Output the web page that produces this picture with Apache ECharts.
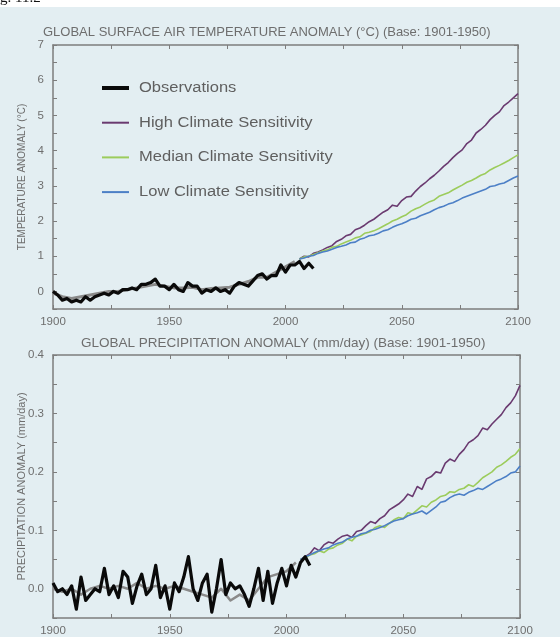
<!DOCTYPE html>
<html>
<head>
<meta charset="utf-8">
<title>Global temperature and precipitation anomaly</title>
<script src="https://cdn.jsdelivr.net/npm/echarts@6/dist/echarts.min.js"></script>
<style>
  html, body { margin: 0; padding: 0; background: #ffffff; }
  #chart { width: 560px; height: 637px; }
</style>
</head>
<body>
<div id="chart"></div>
<script>
// ---- data ----
const legendNames = ['Observations', 'High Climate Sensitivity', 'Median Climate Sensitivity', 'Low Climate Sensitivity']
const xTickLabels = ['1900', '1950', '2000', '2050', '2100']

// temperature anomaly (°C)
const tempObsStart = 1900   // every 2 years
const tempObs = [0.0, -0.1, -0.25, -0.2, -0.3, -0.25, -0.3, -0.15, -0.25, -0.15,
  -0.1, -0.05, -0.1, 0.0, -0.05, 0.05, 0.05, 0.1, 0.05, 0.2,
  0.2, 0.25, 0.35, 0.15, 0.15, 0.05, 0.2, 0.05, 0.0, 0.25,
  0.15, 0.15, -0.05, 0.05, 0.0, 0.1, 0.0, 0.05, -0.05, 0.15,
  0.25, 0.2, 0.15, 0.3, 0.45, 0.5, 0.35, 0.45, 0.45, 0.75,
  0.55, 0.75, 0.75, 0.85, 0.65, 0.8, 0.65]
const tempHistStart = 1900  // every 4 years, model historical run
const tempHist = [-0.05, -0.15, -0.2, -0.15, -0.1, -0.05, 0.0, 0.0, 0.05, 0.1,
  0.15, 0.2, 0.15, 0.1, 0.1, 0.12, 0.05, 0.08, 0.1, 0.12,
  0.2, 0.28, 0.4, 0.4, 0.55, 0.7, 0.85]
const projStart = 2006      // every 2 years to 2100
const tempHigh = [0.92, 1.0, 0.98, 1.08, 1.12, 1.18, 1.25, 1.3, 1.42, 1.48,
  1.58, 1.62, 1.75, 1.8, 1.88, 1.98, 2.05, 2.15, 2.25, 2.32,
  2.45, 2.42, 2.58, 2.68, 2.7, 2.85, 2.98, 3.08, 3.2, 3.3,
  3.42, 3.55, 3.66, 3.8, 3.92, 4.02, 4.2, 4.3, 4.5, 4.6,
  4.72, 4.88, 5.0, 5.1, 5.28, 5.38, 5.5, 5.62]
const tempMedian = [0.92, 0.98, 1.0, 1.05, 1.1, 1.15, 1.18, 1.25, 1.28, 1.35,
  1.4, 1.45, 1.52, 1.55, 1.65, 1.68, 1.72, 1.78, 1.85, 1.92,
  2.0, 2.05, 2.12, 2.18, 2.28, 2.35, 2.4, 2.48, 2.55, 2.6,
  2.7, 2.75, 2.8, 2.88, 2.95, 3.02, 3.1, 3.15, 3.22, 3.3,
  3.35, 3.45, 3.52, 3.58, 3.65, 3.72, 3.8, 3.88]
const tempLow = [0.92, 0.95, 1.0, 1.02, 1.08, 1.12, 1.15, 1.2, 1.25, 1.28,
  1.32, 1.38, 1.4, 1.48, 1.52, 1.58, 1.6, 1.65, 1.72, 1.75,
  1.82, 1.88, 1.92, 1.98, 2.05, 2.08, 2.15, 2.2, 2.25, 2.32,
  2.38, 2.42, 2.48, 2.52, 2.58, 2.65, 2.7, 2.75, 2.8, 2.85,
  2.9, 2.98, 3.0, 3.05, 3.08, 3.15, 3.22, 3.28]

// precipitation anomaly (mm/day)
const precObsStart = 1900   // every 2 years
const precObs = [0.01, -0.005, 0.0, -0.01, 0.005, -0.035, 0.02, -0.02, -0.01, 0.0,
  -0.005, 0.035, -0.01, 0.005, -0.015, 0.03, 0.02, -0.025, 0.005, 0.025,
  -0.01, 0.0, 0.04, -0.015, 0.005, -0.035, 0.01, -0.005, 0.02, 0.055,
  0.0, -0.02, 0.01, 0.025, -0.04, 0.0, 0.05, -0.01, 0.01, 0.0,
  0.005, -0.01, -0.03, 0.0, 0.035, -0.02, 0.03, -0.025, 0.01, 0.035,
  0.005, 0.04, 0.02, 0.045, 0.055, 0.04]
const precHistStart = 1900  // every 4 years
const precHist = [0.0, -0.005, 0.0, -0.01, 0.0, 0.005, 0.0, 0.005, 0.0, 0.01,
  0.0, 0.005, 0.0, 0.005, 0.0, -0.005, -0.01, -0.015, 0.0, -0.02,
  -0.01, -0.02, 0.0, 0.02, 0.025, 0.03, 0.045]
const precHigh = [0.05, 0.055, 0.06, 0.07, 0.065, 0.075, 0.08, 0.078, 0.085, 0.09,
  0.092, 0.088, 0.098, 0.1, 0.108, 0.115, 0.112, 0.12, 0.125, 0.135,
  0.14, 0.145, 0.152, 0.162, 0.158, 0.175, 0.17, 0.188, 0.192, 0.2,
  0.198, 0.215, 0.222, 0.218, 0.23, 0.238, 0.25, 0.255, 0.262, 0.275,
  0.272, 0.282, 0.29, 0.298, 0.31, 0.318, 0.33, 0.348]
const precMedian = [0.05, 0.052, 0.058, 0.06, 0.065, 0.062, 0.068, 0.07, 0.075, 0.078,
  0.085, 0.082, 0.09, 0.092, 0.095, 0.098, 0.105, 0.108, 0.105, 0.112,
  0.118, 0.122, 0.12, 0.13, 0.128, 0.135, 0.142, 0.14, 0.148, 0.152,
  0.158, 0.16, 0.166, 0.165, 0.17, 0.172, 0.178, 0.175, 0.182, 0.19,
  0.195, 0.2, 0.208, 0.212, 0.218, 0.225, 0.23, 0.24]
const precLow = [0.05, 0.055, 0.058, 0.062, 0.065, 0.068, 0.07, 0.075, 0.078, 0.08,
  0.085, 0.088, 0.09, 0.094, 0.096, 0.1, 0.102, 0.105, 0.108, 0.112,
  0.116, 0.118, 0.12, 0.125, 0.128, 0.13, 0.133, 0.128, 0.134, 0.14,
  0.148, 0.15, 0.156, 0.16, 0.162, 0.16, 0.165, 0.168, 0.172, 0.17,
  0.175, 0.18, 0.185, 0.188, 0.192, 0.198, 0.2, 0.21]

// ---- helpers ----
// pair each value with its year (start year + step)
function withYears(values, start, step) {
  return values.map((v, i) => [start + i * step, v])
}

const txt = '#6e6e6e'
const axisCol = '#7d7d7d'
const colors = {
  obs: '#0a0a0a',
  hist: '#8a8a8a',
  high: '#6a3a70',
  median: '#9ccc5c',
  low: '#4c7fc6'
}
const font = 'Liberation Sans, Arial, sans-serif'

function xAxisPair(gridIndex) {
  return [{
    type: 'value', gridIndex: gridIndex, min: 1900, max: 2100, interval: 25,
    axisLine: { onZero: false, lineStyle: { color: axisCol, width: 1.5 } },
    axisTick: { inside: true, length: 4, lineStyle: { color: axisCol } },
    axisLabel: {
      color: txt, fontFamily: font, fontSize: 11.5, margin: 7,
      formatter: v => xTickLabels.indexOf(String(v)) >= 0 ? String(v) : ''
    },
    splitLine: { show: false }
  }, {
    type: 'value', gridIndex: gridIndex, position: 'top', min: 1900, max: 2100, interval: 25,
    axisLine: { onZero: false, lineStyle: { color: axisCol, width: 1.5 } },
    axisTick: { inside: true, length: 4, lineStyle: { color: axisCol } },
    axisLabel: { show: false },
    splitLine: { show: false }
  }]
}

function yAxisPair(gridIndex, min, max, interval, name, nameSize, fmt) {
  return [{
    type: 'value', gridIndex: gridIndex, min: min, max: max, interval: interval,
    name: name, nameLocation: 'middle', nameGap: 26, nameRotate: 90, nameMoveOverlap: false,
    nameTextStyle: { color: txt, fontFamily: font, fontSize: nameSize },
    axisLine: { show: true, onZero: false, lineStyle: { color: axisCol, width: 1.5 } },
    axisTick: { show: true, inside: true, length: 4, lineStyle: { color: axisCol } },
    axisLabel: { color: txt, fontFamily: font, fontSize: 11.5, margin: 9, formatter: fmt },
    splitLine: { show: false }
  }, {
    type: 'value', gridIndex: gridIndex, position: 'right', min: min, max: max, interval: interval,
    axisLine: { show: true, onZero: false, lineStyle: { color: axisCol, width: 1.5 } },
    axisTick: { show: true, inside: true, length: 4, lineStyle: { color: axisCol } },
    axisLabel: { show: false },
    splitLine: { show: false }
  }]
}

function lineSeries(name, values, start, step, color, width, xi, yi, z) {
  return {
    name: name, type: 'line', xAxisIndex: xi, yAxisIndex: yi,
    data: withYears(values, start, step),
    showSymbol: false, symbol: 'none', smooth: false, silent: true,
    lineStyle: { color: color, width: width, join: 'round' },
    z: z
  }
}

// legend drawn inside the top panel
const legendColors = [colors.obs, colors.high, colors.median, colors.low]
const legendWidths = [4, 2, 2, 2]
const legendGraphic = []
legendNames.forEach((n, i) => {
  const y = 88 + i * 34.7
  legendGraphic.push({
    type: 'line', shape: { x1: 102, y1: y, x2: 129, y2: y },
    style: { stroke: legendColors[i], lineWidth: legendWidths[i] }
  })
  legendGraphic.push({
    type: 'text', x: 139, y: y, scaleX: 1.18,
    style: { text: n, fill: '#5f5f5f', font: '14px ' + font, verticalAlign: 'middle' }
  })
})

const chart = echarts.init(document.getElementById('chart'))
chart.setOption({
  backgroundColor: '#e3eef2',
  animation: false,
  title: [{
    text: 'GLOBAL SURFACE AIR TEMPERATURE ANOMALY (°C) (Base: 1901-1950)',
    left: 38, top: 21,
    textStyle: { color: txt, fontFamily: font, fontSize: 13, fontWeight: 'normal' }
  }, {
    text: 'GLOBAL PRECIPITATION ANOMALY (mm/day) (Base: 1901-1950)',
    left: 76, top: 331,
    textStyle: { color: txt, fontFamily: font, fontSize: 13.5, fontWeight: 'normal' }
  }],
  grid: [
    { left: 53, top: 45, width: 465, height: 264 },
    { left: 53, top: 355, width: 467, height: 267 }
  ],
  xAxis: [...xAxisPair(0), ...xAxisPair(1)],
  yAxis: [
    ...yAxisPair(0, -0.5, 7, 0.5, 'TEMPERATURE ANOMALY (°C)', 10,
      v => Number.isInteger(v) ? String(v) : ''),
    ...yAxisPair(1, -0.05, 0.4, 0.05, 'PRECIPITATION ANOMALY (mm/day)', 11,
      v => Math.abs(Math.round(v * 10) - v * 10) < 1e-6 ? v.toFixed(1) : '')
  ],
  graphic: [
    { type: 'rect', shape: { x: 0, y: 0, width: 560, height: 7 }, style: { fill: '#ffffff' }, z: -1 },
    { type: 'text', left: 0, top: -9, style: { text: 'g. 11.2', fill: '#111', font: '15px Liberation Serif, Times New Roman, serif' } },
    ...legendGraphic
  ],
  series: [
    lineSeries('hist', tempHist, tempHistStart, 4, colors.hist, 3, 0, 0, 2),
    lineSeries('High Climate Sensitivity', tempHigh, projStart, 2, colors.high, 1.6, 0, 0, 3),
    lineSeries('Median Climate Sensitivity', tempMedian, projStart, 2, colors.median, 1.6, 0, 0, 3),
    lineSeries('Low Climate Sensitivity', tempLow, projStart, 2, colors.low, 1.6, 0, 0, 3),
    lineSeries('Observations', tempObs, tempObsStart, 2, colors.obs, 3.2, 0, 0, 4),

    lineSeries('hist', precHist, precHistStart, 4, colors.hist, 2.5, 2, 2, 2),
    lineSeries('High Climate Sensitivity', precHigh, projStart, 2, colors.high, 1.6, 2, 2, 3),
    lineSeries('Median Climate Sensitivity', precMedian, projStart, 2, colors.median, 1.6, 2, 2, 3),
    lineSeries('Low Climate Sensitivity', precLow, projStart, 2, colors.low, 1.6, 2, 2, 3),
    lineSeries('Observations', precObs, precObsStart, 2, colors.obs, 3.2, 2, 2, 4)
  ]
})
</script>
</body>
</html>
